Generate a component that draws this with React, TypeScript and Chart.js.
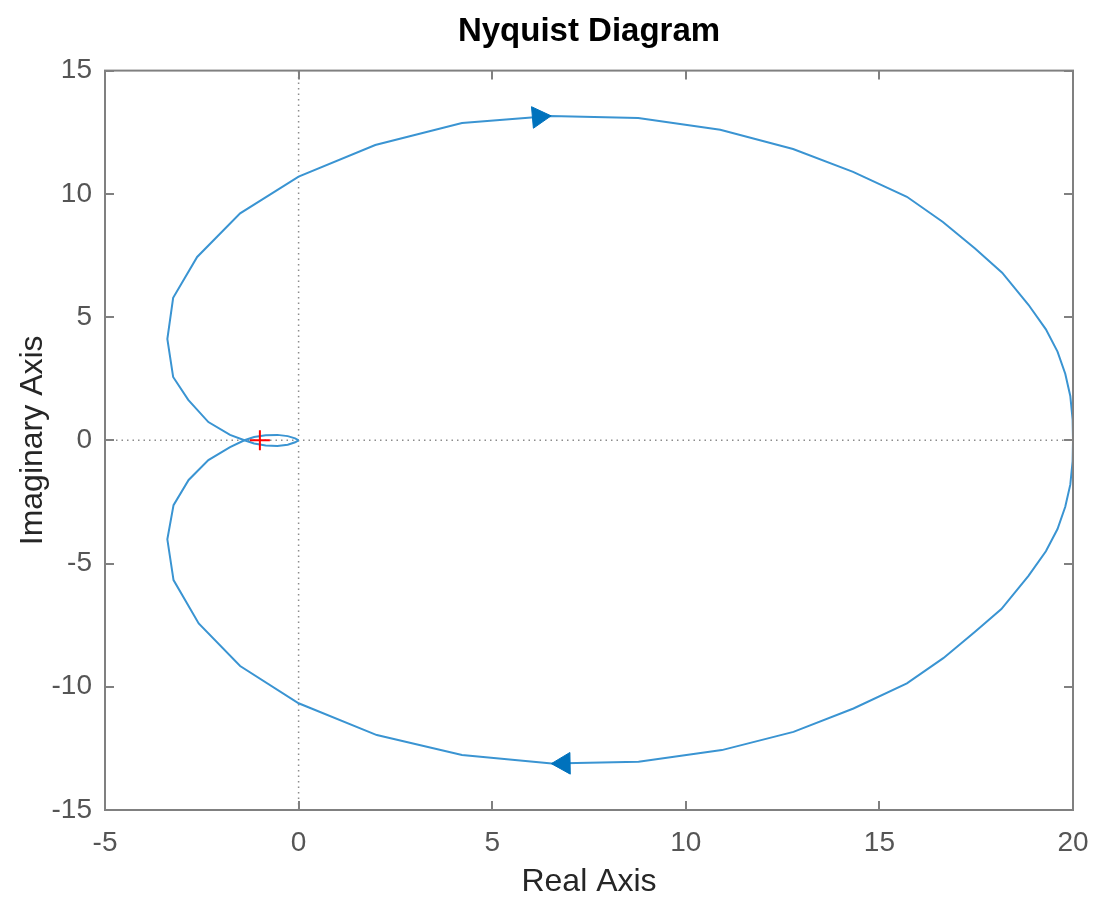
import React, { useEffect, useRef } from "react";
import { Chart, registerables } from "chart.js";

Chart.register(...registerables);

// Positive-frequency branch (lower half), from w = 0 to w = inf
const realPos = [20.0, 19.99, 19.93, 19.8, 19.6, 19.3, 18.85, 18.15, 17.47, 16.65, 15.71, 14.33, 12.78, 10.93, 8.78, 6.54, 4.22, 2.02, 0.0, -1.51, -2.58, -3.23, -3.39, -3.23, -2.84, -2.33, -1.77, -1.4, -1.15, -0.85, -0.55, -0.28, -0.09, 0.0];
const imagPos = [0.0, -0.85, -1.8, -2.7, -3.6, -4.5, -5.5, -6.85, -7.77, -8.84, -9.86, -10.88, -11.83, -12.57, -13.04, -13.11, -12.77, -11.96, -10.67, -9.16, -7.43, -5.67, -4.02, -2.63, -1.61, -0.8, -0.28, 0.0, 0.13, 0.2, 0.22, 0.17, 0.08, 0.0];

// Negative-frequency branch (upper half)
const realNeg = [20.0, 19.99, 19.93, 19.8, 19.6, 19.3, 18.85, 18.17, 17.47, 16.64, 15.71, 14.32, 12.77, 10.89, 8.77, 6.5, 4.22, 1.98, 0.0, -1.51, -2.62, -3.24, -3.39, -3.24, -2.85, -2.33, -1.77, -1.4, -1.15, -0.85, -0.55, -0.28, -0.09, 0.0];
const imagNeg = [0.0, 0.85, 1.8, 2.7, 3.6, 4.5, 5.5, 6.8, 7.78, 8.86, 9.88, 10.89, 11.82, 12.6, 13.08, 13.16, 12.87, 11.98, 10.7, 9.21, 7.44, 5.78, 4.11, 2.57, 1.64, 0.74, 0.22, 0.0, -0.13, -0.21, -0.23, -0.18, -0.08, 0.0];

// Direction arrows
const arrowReal = [6.2, 6.85];
const arrowImag = [13.12, -13.11];
const arrowRotation = [85, -91];

// Critical point
const critReal = [-1];
const critImag = [0];

// Axes
const xRange = [-5, 20];
const yRange = [-15, 15];
const tickStep = 5;

const FONT = '"Liberation Sans", Arial, Helvetica, sans-serif';

const toPoints = (xs: number[], ys: number[]) => xs.map((x, i) => ({ x, y: ys[i] }));

const framePlugin = {
  id: "matlabFrame",
  afterDatasetsDraw(chart: any) {
    const { ctx, chartArea: a, scales } = chart;
    const L = 9;
    ctx.save();
    ctx.strokeStyle = "#808080";
    ctx.lineWidth = 2;
    ctx.beginPath();
    scales.x.ticks.forEach((t: any) => {
      const px = Math.round(scales.x.getPixelForValue(t.value));
      ctx.moveTo(px, a.bottom);
      ctx.lineTo(px, a.bottom - L);
      ctx.moveTo(px, a.top);
      ctx.lineTo(px, a.top + L);
    });
    scales.y.ticks.forEach((t: any) => {
      const py = Math.round(scales.y.getPixelForValue(t.value));
      ctx.moveTo(a.left, py);
      ctx.lineTo(a.left + L, py);
      ctx.moveTo(a.right, py);
      ctx.lineTo(a.right - L, py);
    });
    ctx.stroke();
    ctx.strokeRect(a.left, a.top, a.right - a.left, a.bottom - a.top);
    ctx.restore();
  },
};

export default function App() {
  const ref = useRef<HTMLCanvasElement | null>(null);

  useEffect(() => {
    document.body.style.margin = "0";
    if (!ref.current) return;
    const lineColor = "rgb(58,148,210)";
    const chart = new Chart(ref.current, {
      type: "scatter",
      data: {
        datasets: [
          {
            label: "zeroX",
            data: toPoints([0, 0], yRange),
            showLine: true,
            borderColor: "#8c8c8c",
            borderWidth: 1.5,
            borderDash: [1.5, 4],
            pointRadius: 0,
            order: 5,
          },
          {
            label: "zeroY",
            data: toPoints(xRange, [0, 0]),
            showLine: true,
            borderColor: "#8c8c8c",
            borderWidth: 1.5,
            borderDash: [1.5, 4],
            pointRadius: 0,
            order: 5,
          },
          {
            label: "pos",
            data: toPoints(realPos, imagPos),
            showLine: true,
            borderColor: lineColor,
            borderWidth: 2,
            pointRadius: 0,
            tension: 0,
            order: 3,
          },
          {
            label: "neg",
            data: toPoints(realNeg, imagNeg),
            showLine: true,
            borderColor: lineColor,
            borderWidth: 2,
            pointRadius: 0,
            tension: 0,
            order: 3,
          },
          {
            label: "arrows",
            data: toPoints(arrowReal, arrowImag),
            showLine: false,
            pointStyle: "triangle",
            pointRadius: 12.5,
            rotation: arrowRotation,
            backgroundColor: "#0072BD",
            borderColor: "#0072BD",
            borderWidth: 1,
            order: 2,
          },
          {
            label: "crit",
            data: toPoints(critReal, critImag),
            showLine: false,
            pointStyle: "cross",
            pointRadius: 10,
            borderColor: "#ff0000",
            borderWidth: 2,
            order: 1,
          },
        ],
      },
      options: {
        responsive: false,
        animation: false,
        events: [],
        layout: { padding: { left: 0, right: 35, top: 0, bottom: 0 } },
        plugins: {
          legend: { display: false },
          tooltip: { enabled: false },
          title: {
            display: true,
            fullSize: false,
            text: "Nyquist Diagram",
            color: "#000000",
            font: { family: FONT, size: 33, weight: "bold", lineHeight: 1.2 },
            padding: { top: 12, bottom: 19 },
          },
        },
        scales: {
          x: {
            type: "linear",
            min: xRange[0],
            max: xRange[1],
            grid: { display: false, drawTicks: false },
            border: { display: false },
            ticks: {
              stepSize: tickStep,
              color: "#555555",
              padding: 16,
              font: { family: FONT, size: 28 },
            },
            title: {
              display: true,
              text: "Real Axis",
              color: "#262626",
              font: { family: FONT, size: 32, lineHeight: 1 },
              padding: { top: 0, bottom: 0 },
            },
            afterFit: (s: any) => {
              s.height = 88;
            },
          },
          y: {
            type: "linear",
            min: yRange[0],
            max: yRange[1],
            grid: { display: false, drawTicks: false },
            border: { display: false },
            ticks: {
              stepSize: tickStep,
              color: "#555555",
              padding: 13,
              font: { family: FONT, size: 28 },
            },
            title: {
              display: true,
              text: "Imaginary Axis",
              color: "#262626",
              font: { family: FONT, size: 32, lineHeight: 1 },
              padding: { top: 17, bottom: 0 },
            },
            afterFit: (s: any) => {
              s.width = 105;
            },
          },
        },
      },
      plugins: [framePlugin],
    } as any);
    return () => chart.destroy();
  }, []);

  return (
    <div style={{ width: 1108, height: 898, background: "#ffffff" }}>
      <canvas ref={ref} width={1108} height={898} style={{ display: "block" }} />
    </div>
  );
}
